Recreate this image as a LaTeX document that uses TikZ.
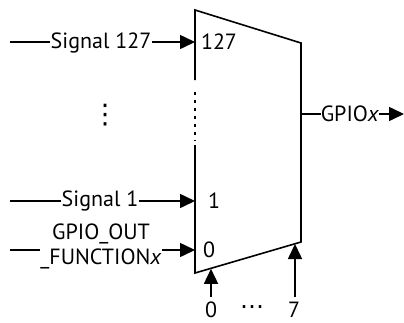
\documentclass[tikz,border=0pt]{standalone}
\usepackage{fontspec}
\setmainfont{PT Sans}
\newfontfamily\symfont{DejaVu Sans}
\usetikzlibrary{arrows.meta}
\begin{document}
\begin{tikzpicture}[x=1pt,y=-1pt,
  wire/.style={line width=1.6pt},
  arr/.style={wire,-{Triangle[length=15pt,width=14pt]}},
  lbl/.style={inner sep=0pt,font=\fontsize{22}{25}\selectfont,text height=15.4pt,text depth=0pt},
  lbl2/.style={inner sep=0pt,font=\fontsize{22}{25}\selectfont,align=center},
  sym/.style={inner sep=0pt,font=\symfont\fontsize{24}{25}\selectfont},
]
\useasboundingbox (0,0) rectangle (404,322);
% multiplexer outline
\coordinate (tl) at (195,10);
\coordinate (tr) at (301,43);
\coordinate (br) at (301,242);
\coordinate (bl) at (195,273);
\coordinate (l1) at (195,80);
\coordinate (l2) at (195,92);
\coordinate (l3) at (195,141);
\coordinate (l4) at (195,145);
\draw[wire, line join=miter] (l1) -- (tl) -- (tr) -- (br) -- (bl) -- (l4);
\draw[wire, dash pattern=on 2.5pt off 5.5pt] (l2) -- (l3);
% input ports on the mux
\coordinate (in127) at (195,42);
\coordinate (in1) at (195,201);
\coordinate (in0) at (195,250);
% input sources
\coordinate (s127s) at (10,42);
\coordinate (s1s) at (10,201);
\coordinate (s0s) at (10,250);
\node[lbl] (s127) at (101,41) {Signal 127};
\node[lbl] (s1) at (100,199) {Signal 1};
\node[lbl2, anchor=north] (gof) at (101,224) {GPIO\_OUT\\\_FUNCTION\textit{x}};
\draw[wire] (s127s) -- (s127s -| s127.west);
\draw[arr] (s127s -| s127.east) -- (in127);
\draw[wire] (s1s) -- (s1s -| s1.west);
\draw[arr] (s1s -| s1.east) -- (in1);
\draw[wire] (s0s) -- (s0s -| gof.west);
\draw[arr] (s0s -| gof.east) -- (in0);
\node[sym, font=\symfont\fontsize{27}{28}\selectfont] (vd) at (105,115) {⋮};
% labels inside the mux
\node[lbl] (n127) at (219,42) {127};
\node[lbl] (n1) at (214,201) {1};
\node[lbl] (n0) at (209,250) {0};
% output
\coordinate (out) at (301,114);
\coordinate (outend) at (404,114);
\node[lbl] (gx) at (350,114) {GPIO\textit{x}};
\draw[wire] (out) -- (out -| gx.west);
\draw[arr] (out -| gx.east) -- (outend);
% select inputs
\node[lbl] (b0) at (211,310) {0};
\node[sym] (bd) at (252,310) {⋯};
\node[lbl] (b7) at (294,310) {7};
\coordinate (b0s) at (211,297);
\coordinate (b0t) at (211,268.8);
\coordinate (b7s) at (295,297);
\coordinate (b7t) at (295,244);
\draw[arr] (b0s) -- (b0t);
\draw[arr] (b7s) -- (b7t);
\end{tikzpicture}
\end{document}
